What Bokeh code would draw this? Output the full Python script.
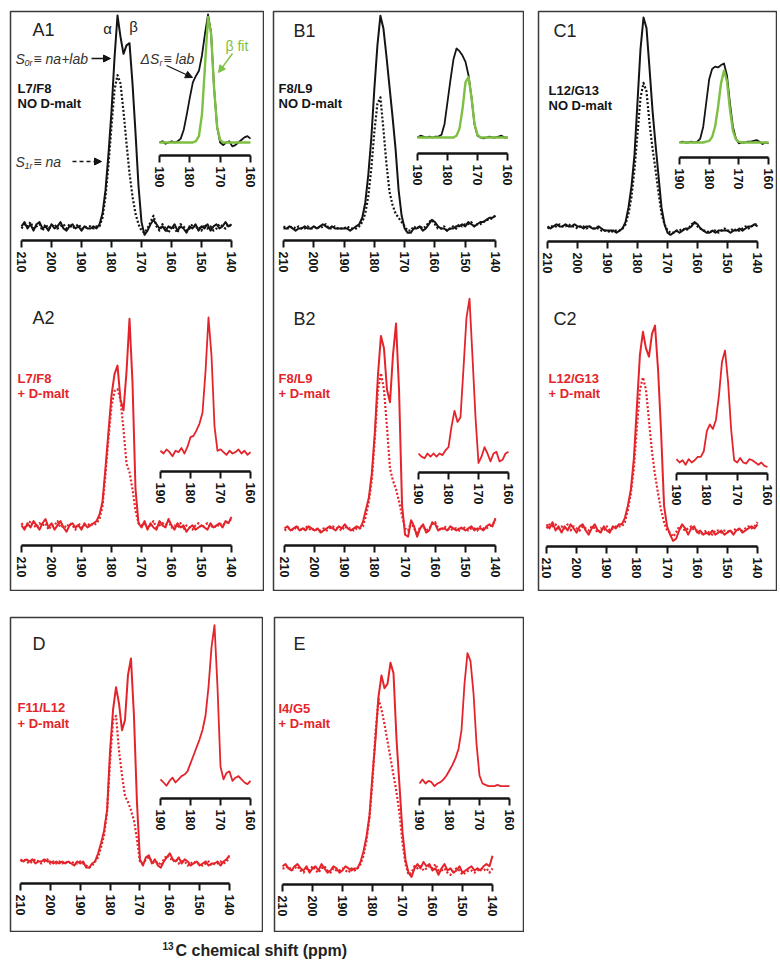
import math
from bokeh.plotting import figure
from bokeh.models import Range1d, LinearAxis, FixedTicker, Label, Arrow, NormalHead, Spacer
from bokeh.layouts import column, row
from bokeh.embed import file_html
from bokeh.resources import INLINE

# ---------------- data ----------------
ppm_main = list(range(210, 139, -1))     # 210 ... 140
ppm_inset = list(range(190, 159, -1))    # 190 ... 160
main_ticks = [210, 200, 190, 180, 170, 160, 150, 140]
inset_ticks = [190, 180, 170, 160]

# A1 (L7/F8, no D-malt)
a1_s0 = [0.01, 0.03, 0.00, 0.02, -0.01, 0.02, 0.03, 0.00, 0.01, -0.01,
         0.02, 0.00, 0.01, 0.03, 0.00, -0.01, 0.01, 0.02, 0.00, 0.01,
         -0.01, 0.01, 0.00, 0.00, 0.01, 0.00, 0.02, 0.07, 0.18, 0.35,
         0.55, 0.80, 1.00, 0.90, 0.82, 0.86, 0.87, 0.68, 0.45, 0.20,
         0.03, -0.03, -0.01, 0.02, 0.04, 0.02, 0.00, 0.01, -0.01, 0.01,
         0.00, 0.02, -0.01, 0.01, 0.00, -0.02, 0.01, 0.00, 0.02, -0.01,
         0.01, 0.00, 0.02, -0.01, 0.01, 0.02, 0.00, 0.01, 0.03, 0.01,
         0.02]
a1_s1 = [0.00, 0.02, 0.01, 0.03, 0.00, 0.01, 0.02, -0.01, 0.02, 0.00,
         0.01, 0.02, 0.00, 0.01, 0.02, 0.00, 0.02, 0.00, 0.01, 0.02,
         0.00, 0.00, 0.01, 0.01, 0.00, 0.01, 0.01, 0.05, 0.15, 0.30,
         0.48, 0.65, 0.72, 0.68, 0.55, 0.40, 0.26, 0.15, 0.07, 0.02,
         -0.01, -0.02, 0.00, 0.03, 0.06, 0.01, -0.01, 0.02, 0.00, -0.02,
         0.01, 0.00, -0.02, 0.02, 0.01, -0.01, 0.00, 0.02, 0.00, 0.01,
         -0.01, 0.02, 0.00, 0.01, -0.01, 0.00, 0.02, 0.01, 0.00, 0.02,
         0.01]
a1_ds = [0.00, 0.01, -0.01, 0.00, 0.01, 0.00, 0.01, 0.03, 0.10, 0.22,
         0.35, 0.47, 0.52, 0.56, 0.68, 0.85, 1.00, 0.86, 0.42, 0.12,
         0.00, -0.02, 0.00, 0.01, -0.03, -0.02, 0.00, 0.02, 0.04, 0.05,
         0.03]
a1_fit = [0.00, 0.00, 0.00, 0.00, 0.00, 0.00, 0.00, 0.00, 0.00, 0.00,
          0.00, 0.00, 0.01, 0.05, 0.22, 0.60, 0.98, 0.85, 0.42, 0.12,
          0.02, 0.00, 0.00, 0.00, 0.00, 0.00, 0.00, 0.00, 0.00, 0.00,
          0.00]

# A2 (L7/F8, + D-malt)
a2_s0 = [0.01, -0.01, 0.02, 0.00, 0.03, 0.01, -0.01, 0.02, 0.04, 0.00,
         0.02, -0.01, 0.01, 0.03, 0.00, -0.02, 0.01, 0.02, 0.00, 0.01,
         -0.01, 0.02, 0.00, 0.01, 0.02, 0.03, 0.06, 0.12, 0.28, 0.45,
         0.62, 0.72, 0.76, 0.60, 0.55, 0.73, 0.98, 0.68, 0.18, 0.02,
         0.00, 0.03, -0.01, 0.02, 0.00, -0.01, 0.03, 0.01, 0.00, 0.04,
         0.01, -0.01, 0.02, 0.00, 0.01, -0.02, 0.00, 0.01, -0.01, 0.00,
         0.01, 0.00, -0.01, 0.02, 0.00, 0.01, 0.02, 0.00, 0.03, 0.02,
         0.05]
a2_s1 = [0.02, 0.00, 0.01, 0.03, 0.01, 0.00, 0.02, 0.01, 0.02, -0.01,
         0.01, 0.01, 0.03, 0.00, 0.01, 0.00, 0.02, 0.01, -0.01, 0.02,
         0.00, 0.01, 0.01, 0.02, 0.01, 0.02, 0.04, 0.10, 0.25, 0.42,
         0.57, 0.64, 0.65, 0.60, 0.46, 0.30, 0.26, 0.18, 0.08, 0.02,
         0.01, 0.02, 0.00, 0.01, 0.03, 0.00, 0.01, 0.02, 0.01, 0.03,
         0.00, 0.01, 0.00, 0.02, -0.01, 0.01, 0.00, -0.01, 0.01, 0.02,
         0.00, 0.01, 0.02, 0.00, 0.01, 0.00, 0.02, 0.01, 0.02, 0.03,
         0.04]
a2_ds = [0.02, 0.00, 0.03, 0.01, -0.02, 0.02, 0.01, 0.04, 0.00, 0.05,
         0.12, 0.13, 0.17, 0.22, 0.30, 0.60, 1.00, 0.72, 0.20, 0.02,
         0.03, 0.01, -0.01, 0.02, 0.00, 0.01, 0.03, 0.00, 0.02, -0.01,
         0.01]

# B1 (F8/L9, no D-malt)
b1_s0 = [0.00, 0.00, 0.01, 0.00, -0.01, 0.00, 0.00, 0.01, 0.00, 0.00,
         0.01, 0.00, 0.01, 0.02, 0.01, 0.00, 0.01, 0.00, 0.00, 0.00,
         0.00, 0.00, -0.01, 0.00, 0.01, 0.02, 0.05, 0.12, 0.25, 0.42,
         0.65, 0.85, 0.99, 0.93, 0.80, 0.66, 0.52, 0.37, 0.18, 0.06,
         0.00, -0.02, -0.02, 0.00, 0.00, 0.01, -0.01, 0.00, 0.02, 0.04,
         0.03, 0.01, 0.00, 0.00, -0.01, 0.00, 0.00, 0.01, 0.01, 0.02,
         0.01, 0.03, 0.02, 0.01, 0.02, 0.03, 0.03, 0.04, 0.05, 0.05,
         0.06]
b1_s1 = [0.01, 0.00, 0.00, 0.01, 0.00, 0.01, 0.00, 0.00, 0.01, 0.00,
         0.00, 0.01, 0.00, 0.01, 0.02, 0.00, 0.00, 0.01, 0.00, 0.00,
         0.00, 0.01, 0.00, 0.00, 0.00, 0.01, 0.03, 0.07, 0.15, 0.28,
         0.45, 0.58, 0.61, 0.46, 0.30, 0.17, 0.11, 0.07, 0.05, 0.03,
         0.01, -0.01, -0.01, 0.01, 0.00, 0.01, 0.00, 0.01, 0.03, 0.04,
         0.02, 0.00, 0.00, 0.01, -0.01, 0.00, 0.01, 0.00, 0.02, 0.01,
         0.02, 0.02, 0.03, 0.01, 0.02, 0.02, 0.03, 0.04, 0.04, 0.05,
         0.06]
b1_ds = [0.00, 0.02, 0.01, 0.00, 0.01, 0.00, 0.01, 0.01, 0.03, 0.15,
         0.40, 0.65, 0.88, 1.00, 0.97, 0.92, 0.85, 0.70, 0.45, 0.15,
         0.02, 0.00, -0.01, 0.00, 0.01, 0.00, 0.00, 0.01, 0.02, 0.00,
         0.00]
b1_fit = [0.00, 0.00, 0.00, 0.00, 0.00, 0.00, 0.00, 0.00, 0.00, 0.00,
          0.00, 0.00, 0.00, 0.02, 0.10, 0.32, 0.62, 0.68, 0.45, 0.15,
          0.03, 0.00, 0.00, 0.00, 0.00, 0.00, 0.00, 0.00, 0.00, 0.00,
          0.00]

# B2 (F8/L9, + D-malt)
b2_s0 = [0.01, 0.02, 0.00, 0.01, 0.02, 0.00, 0.01, 0.00, 0.02, 0.01,
         0.00, 0.01, -0.01, 0.00, 0.01, 0.02, 0.01, 0.00, 0.02, 0.01,
         0.03, 0.01, 0.00, 0.01, 0.02, 0.01, 0.04, 0.10, 0.16, 0.28,
         0.48, 0.75, 0.94, 0.88, 0.68, 0.62, 0.85, 1.00, 0.68, 0.12,
         -0.02, -0.03, 0.05, 0.02, -0.03, 0.01, 0.03, -0.01, 0.00, 0.04,
         0.03, 0.00, 0.01, 0.01, 0.00, 0.02, 0.01, 0.00, 0.01, 0.01,
         0.00, 0.01, 0.02, 0.00, 0.01, 0.01, 0.00, 0.02, 0.03, 0.02,
         0.06]
b2_s1 = [0.00, 0.01, 0.01, 0.00, 0.02, 0.01, 0.00, 0.02, 0.01, 0.00,
         0.01, 0.00, 0.00, 0.01, 0.00, 0.01, 0.02, 0.01, 0.01, 0.00,
         0.02, 0.01, 0.01, 0.00, 0.01, 0.01, 0.02, 0.07, 0.14, 0.25,
         0.45, 0.68, 0.76, 0.68, 0.50, 0.30, 0.24, 0.20, 0.14, 0.07,
         0.01, 0.00, 0.04, 0.01, -0.02, 0.02, 0.02, 0.00, 0.01, 0.03,
         0.04, 0.01, 0.00, 0.02, 0.01, 0.00, 0.01, 0.01, 0.00, 0.02,
         0.01, 0.00, 0.01, 0.01, 0.00, 0.02, 0.01, 0.01, 0.02, 0.03,
         0.05]
b2_ds = [0.00, -0.02, -0.03, 0.00, -0.02, 0.00, -0.02, 0.00, -0.01, 0.02,
         0.04, 0.17, 0.27, 0.20, 0.23, 0.54, 0.86, 0.98, 0.61, 0.23,
         -0.06, -0.02, 0.04, 0.00, -0.05, 0.00, 0.01, -0.05, -0.04, 0.00,
         0.01]

# C1 (L12/G13, no D-malt)
c1_s0 = [0.01, 0.00, 0.01, 0.02, 0.01, 0.01, 0.02, 0.01, 0.01, 0.02,
         0.01, 0.01, 0.00, 0.01, 0.01, 0.00, 0.00, 0.01, 0.00, -0.01,
         -0.01, -0.01, -0.01, -0.02, -0.01, 0.00, 0.03, 0.10, 0.20, 0.35,
         0.60, 0.85, 1.00, 0.95, 0.76, 0.56, 0.40, 0.25, 0.10, 0.02,
         -0.02, -0.03, -0.02, -0.01, -0.02, -0.01, 0.00, 0.00, 0.01, 0.03,
         0.02, 0.00, -0.01, -0.02, -0.02, -0.01, -0.02, -0.01, -0.01, -0.01,
         -0.01, -0.02, -0.01, -0.01, 0.00, -0.01, 0.00, 0.01, 0.01, 0.02,
         0.01]
c1_s1 = [0.00, 0.01, 0.01, 0.01, 0.02, 0.01, 0.01, 0.02, 0.01, 0.01,
         0.00, 0.01, 0.01, 0.00, 0.01, 0.00, 0.00, 0.00, -0.01, -0.01,
         -0.01, -0.02, -0.01, -0.01, -0.01, 0.00, 0.02, 0.07, 0.15, 0.28,
         0.45, 0.62, 0.69, 0.65, 0.50, 0.38, 0.28, 0.17, 0.07, 0.02,
         -0.01, -0.02, -0.02, -0.01, -0.01, 0.00, -0.01, 0.00, 0.02, 0.03,
         0.01, 0.00, -0.01, -0.01, -0.02, -0.01, -0.01, -0.02, -0.01, 0.00,
         -0.01, -0.01, 0.00, -0.01, -0.01, 0.00, 0.01, 0.00, 0.01, 0.02,
         0.02]
c1_ds = [0.00, 0.01, 0.00, 0.00, 0.01, 0.00, 0.01, 0.05, 0.20, 0.50,
         0.80, 0.93, 0.96, 0.95, 0.98, 1.00, 0.85, 0.50, 0.20, 0.05,
         -0.01, 0.00, 0.00, 0.01, 0.01, 0.02, 0.03, 0.01, -0.02, 0.00,
         -0.01]
c1_fit = [0.00, 0.00, 0.00, 0.00, 0.00, 0.00, 0.00, 0.00, 0.00, 0.01,
          0.02, 0.07, 0.20, 0.45, 0.75, 0.91, 0.78, 0.42, 0.15, 0.04,
          0.01, 0.00, 0.00, 0.00, 0.00, 0.00, 0.00, 0.00, 0.00, 0.00,
          0.00]

# C2 (L12/G13, + D-malt)
c2_s0 = [0.03, 0.01, 0.04, 0.00, 0.02, -0.01, 0.02, 0.00, 0.03, 0.01,
         -0.01, 0.02, 0.03, 0.00, -0.02, 0.01, 0.03, 0.00, -0.01, 0.02,
         0.00, -0.01, 0.02, 0.01, 0.03, 0.03, 0.06, 0.12, 0.20, 0.35,
         0.60, 0.85, 0.96, 0.88, 0.84, 0.95, 0.99, 0.78, 0.48, 0.12,
         0.02, -0.02, -0.05, -0.04, 0.00, 0.03, 0.01, -0.02, 0.01, 0.02,
         -0.01, 0.00, -0.02, -0.01, -0.02, 0.00, -0.02, -0.01, 0.00, -0.02,
         -0.01, 0.00, -0.02, 0.00, 0.01, -0.01, 0.00, 0.01, 0.02, 0.01,
         0.03]
c2_s1 = [0.01, 0.03, 0.02, 0.03, 0.00, 0.02, 0.01, 0.03, 0.00, 0.02,
         0.01, 0.00, 0.02, 0.01, 0.00, 0.02, 0.01, -0.01, 0.01, 0.00,
         0.02, 0.00, 0.01, 0.02, 0.02, 0.02, 0.04, 0.10, 0.18, 0.30,
         0.50, 0.68, 0.74, 0.68, 0.53, 0.38, 0.27, 0.18, 0.10, 0.04,
         0.00, -0.01, -0.03, -0.01, 0.02, 0.01, 0.00, 0.01, 0.02, 0.00,
         0.00, -0.02, -0.01, 0.00, -0.01, -0.02, 0.00, 0.00, -0.01, 0.00,
         0.00, -0.01, 0.00, 0.01, 0.00, 0.00, 0.01, 0.02, 0.01, 0.02,
         0.04]
c2_ds = [0.03, 0.00, 0.02, -0.02, 0.03, 0.00, 0.02, 0.05, 0.05, 0.10,
         0.28, 0.34, 0.30, 0.38, 0.60, 0.90, 1.00, 0.72, 0.30, 0.02,
         0.00, 0.04, 0.00, -0.01, 0.03, 0.02, 0.00, -0.02, 0.00, -0.03,
         -0.04]

# D (F11/L12, + D-malt)
d_s0 = [0.02, 0.01, 0.02, 0.01, 0.02, 0.00, 0.01, 0.01, 0.02, 0.01,
        0.01, 0.00, 0.01, 0.00, 0.01, 0.00, 0.01, 0.00, -0.01, 0.01,
        0.00, 0.01, -0.02, -0.02, 0.00, 0.01, 0.05, 0.10, 0.16, 0.26,
        0.55, 0.75, 0.86, 0.78, 0.65, 0.70, 0.92, 1.00, 0.72, 0.30,
        0.02, -0.01, 0.03, 0.04, 0.00, 0.02, -0.01, -0.02, 0.01, 0.03,
        0.05, 0.02, 0.01, 0.03, 0.00, 0.02, 0.01, -0.01, 0.00, 0.01,
        -0.01, 0.00, 0.01, -0.01, 0.00, 0.00, 0.01, -0.01, 0.01, 0.02,
        0.04]
d_s1 = [0.01, 0.02, 0.01, 0.00, 0.01, 0.02, 0.01, 0.00, 0.01, 0.02,
        0.00, 0.01, 0.00, 0.01, 0.00, 0.01, 0.00, 0.01, 0.00, 0.00,
        0.01, 0.00, -0.01, -0.02, -0.01, 0.01, 0.03, 0.08, 0.14, 0.25,
        0.50, 0.70, 0.72, 0.55, 0.43, 0.33, 0.30, 0.26, 0.21, 0.12,
        0.01, 0.00, 0.02, 0.03, 0.01, 0.00, 0.01, -0.01, 0.02, 0.04,
        0.03, 0.01, 0.02, 0.00, 0.01, 0.01, -0.01, 0.00, 0.01, 0.00,
        0.00, -0.01, 0.00, 0.01, -0.01, 0.00, 0.00, 0.01, 0.00, 0.01,
        0.03]
d_ds = [0.02, 0.00, -0.02, 0.01, 0.03, 0.00, 0.02, 0.04, 0.05, 0.07,
        0.12, 0.17, 0.22, 0.27, 0.33, 0.42, 0.60, 0.85, 0.99, 0.60,
        0.10, 0.02, 0.06, 0.07, 0.01, 0.03, 0.04, 0.02, 0.00, -0.01,
        0.01]

# E (I4/G5, + D-malt)
e_s0 = [0.02, 0.03, 0.01, 0.00, 0.02, 0.03, 0.01, 0.00, 0.02, -0.01,
        0.01, 0.02, 0.00, 0.03, 0.01, -0.01, 0.00, 0.02, 0.01, -0.01,
        0.00, 0.02, 0.01, 0.00, 0.01, 0.01, 0.04, 0.09, 0.16, 0.26,
        0.45, 0.62, 0.82, 0.92, 0.86, 0.88, 0.98, 0.93, 0.62, 0.40,
        0.18, 0.05, -0.01, -0.03, 0.01, 0.03, 0.01, 0.04, 0.02, 0.03,
        0.00, 0.01, -0.02, 0.01, 0.03, 0.00, 0.01, -0.01, 0.00, 0.02,
        -0.01, 0.00, 0.01, 0.02, 0.00, 0.01, 0.00, 0.02, 0.03, 0.02,
        0.07]
e_s1 = [0.01, 0.01, 0.02, 0.00, 0.01, 0.02, 0.00, -0.01, 0.01, 0.00,
        0.02, 0.00, -0.01, 0.01, 0.02, 0.00, -0.01, 0.01, 0.00, 0.00,
        0.01, 0.00, -0.01, 0.01, 0.00, 0.01, 0.03, 0.07, 0.14, 0.25,
        0.42, 0.65, 0.81, 0.76, 0.69, 0.61, 0.53, 0.45, 0.37, 0.27,
        0.13, 0.03, -0.02, -0.01, 0.02, 0.01, 0.02, 0.00, 0.01, 0.02,
        0.01, 0.03, 0.00, 0.00, 0.01, -0.01, -0.02, 0.00, 0.01, 0.00,
        -0.02, -0.01, 0.00, 0.00, -0.01, 0.00, 0.01, 0.00, 0.01, -0.01,
        0.01]
e_ds = [0.00, 0.03, 0.00, 0.02, 0.01, -0.02, 0.00, 0.01, 0.03, 0.06,
        0.10, 0.14, 0.19, 0.26, 0.40, 0.75, 0.98, 0.92, 0.68, 0.30,
        0.06, 0.00, -0.01, -0.02, -0.02, -0.02, -0.01, -0.02, -0.02, -0.02,
        -0.02]

for arr in [a1_s0, a1_s1, a2_s0, a2_s1, b1_s0, b1_s1, b2_s0, b2_s1, c1_s0, c1_s1,
            c2_s0, c2_s1, d_s0, d_s1, e_s0, e_s1]:
    assert len(arr) == len(ppm_main), len(arr)
for arr in [a1_ds, a1_fit, a2_ds, b1_ds, b1_fit, b2_ds, c1_ds, c1_fit, c2_ds, d_ds, e_ds]:
    assert len(arr) == len(ppm_inset), len(arr)

# ---------------- style ----------------
BLACK = "#141414"
RED = "#e4242b"
GREEN = "#7dc043"
FRAME = "#3a3a3a"
FONT = "Liberation Sans"
DOT = "2 2"

# boxes: (left, top, width, height) in page pixels
BOXES = {
    "A": (9, 10, 255, 581),
    "B": (272, 10, 252, 581),
    "C": (537, 10, 240, 581),
    "D": (9, 616, 254, 316),
    "E": (273, 616, 251, 316),
}


def make_box(key):
    x0, y0, w, h = BOXES[key]
    p = figure(width=w, height=h,
               x_range=Range1d(x0 + 1, x0 + w - 1), y_range=Range1d(y0 + h - 1, y0 + 1),
               x_axis_type=None, y_axis_type=None, toolbar_location=None,
               output_backend="svg", min_border=1)
    p.outline_line_color = FRAME
    p.outline_line_width = 1.5
    p.background_fill_color = "white"
    p.border_fill_color = "white"
    return p


def style_axis(ax, size):
    ax.axis_line_color = BLACK
    ax.axis_line_width = 2.5
    ax.major_tick_line_color = BLACK
    ax.major_tick_line_width = 2
    ax.major_tick_out = 7
    ax.major_tick_in = 0
    ax.minor_tick_out = 0
    ax.minor_tick_in = 0
    ax.major_label_orientation = -math.pi / 2
    ax.major_label_text_font = FONT
    ax.major_label_text_font_size = size
    ax.major_label_text_font_style = "bold"
    ax.major_label_text_color = BLACK
    ax.major_label_standoff = 4


def subplot(p, key, name, px_lo, px_hi, v_lo, v_hi, y_base, y_top, y_axis, ticks, size):
    x0, y0, w, h = BOXES[key]
    fl, fw = x0 + 1, w - 2
    ft, fh = y0 + 1, h - 2
    fb = ft + fh
    kx = (v_hi - v_lo) / (px_hi - px_lo)
    xs = v_lo - (px_lo - fl) * kx
    ky = 1.0 / (y_base - y_top)
    ys = -(fb - y_base) * ky
    xr = dict(p.extra_x_ranges)
    xr[name] = Range1d(xs, xs + fw * kx)
    p.extra_x_ranges = xr
    yr = dict(p.extra_y_ranges)
    yr[name] = Range1d(ys, ys + fh * ky)
    p.extra_y_ranges = yr
    ax = LinearAxis(x_range_name=name, y_range_name=name,
                    fixed_location=(y_base - y_axis) * ky,
                    bounds=(min(v_lo, v_hi), max(v_lo, v_hi)),
                    ticker=FixedTicker(ticks=ticks, minor_ticks=[]))
    style_axis(ax, size)
    p.add_layout(ax, "below")


def curve(p, name, xs, ys, color, width=2.0, dash="solid"):
    p.line(xs, ys, x_range_name=name, y_range_name=name, line_color=color,
           line_width=width, line_dash=dash, line_join="round")


def txt(p, x, y, s, size="13px", color=BLACK, style="normal", align="left"):
    p.add_layout(Label(x=x, y=y, text=s, text_font=FONT, text_font_size=size,
                       text_color=color, text_font_style=style, text_align=align,
                       text_baseline="middle"))


def arrow(p, x1, y1, x2, y2, color=BLACK, dash="solid"):
    p.add_layout(Arrow(x_start=x1, y_start=y1, x_end=x2, y_end=y2,
                       line_color=color, line_width=1.3, line_dash=dash,
                       end=NormalHead(size=7, fill_color=color, line_color=color)))


MS, IS = "12.5px", "12.5px"

# ---------------- box A ----------------
pA = make_box("A")
subplot(pA, "A", "a1", 21, 231, 210, 140, 228, 15, 240, main_ticks, MS)
subplot(pA, "A", "a1i", 159, 250, 190, 160, 142, 14, 155, inset_ticks, IS)
subplot(pA, "A", "a2", 21, 231, 210, 140, 527, 314, 545, main_ticks, MS)
subplot(pA, "A", "a2i", 160, 250, 190, 160, 453, 317, 471, inset_ticks, IS)
curve(pA, "a1", ppm_main, a1_s1, BLACK, 2.2, DOT)
curve(pA, "a1", ppm_main, a1_s0, BLACK, 2)
curve(pA, "a1i", ppm_inset, a1_ds, BLACK, 1.8)
curve(pA, "a1i", ppm_inset, a1_fit, GREEN, 2.4)
curve(pA, "a2", ppm_main, a2_s1, RED, 2.2, DOT)
curve(pA, "a2", ppm_main, a2_s0, RED, 2)
curve(pA, "a2i", ppm_inset, a2_ds, RED, 1.8)

txt(pA, 32, 29, "A1", "18px", "#222222")
txt(pA, 107, 28, "α", "15px", "#222222", align="center")
txt(pA, 133, 26, "β", "15px", "#222222", align="center")
txt(pA, 15, 58, "S", "14px", "#333333", "italic")
txt(pA, 24, 62, "0r", "9px", "#333333", "italic")
txt(pA, 33, 58, "≡ na+lab", "14px", "#333333", "italic")
arrow(pA, 91, 58, 110, 58)
txt(pA, 17, 88, "L7/F8", "13px", BLACK, "bold")
txt(pA, 17, 103, "NO D-malt", "13px", BLACK, "bold")
txt(pA, 15, 161, "S", "14px", "#333333", "italic")
txt(pA, 24, 165, "1r", "9px", "#333333", "italic")
txt(pA, 33, 161, "≡ na", "14px", "#333333", "italic")
arrow(pA, 72, 161, 101, 161, dash="4 3")
txt(pA, 140, 58, "ΔS", "14px", "#333333", "italic")
txt(pA, 159, 62, "r", "9px", "#333333", "italic")
txt(pA, 163, 58, "≡ lab", "14px", "#333333", "italic")
arrow(pA, 166, 65, 192, 77)
txt(pA, 225, 45, "β fit", "14px", GREEN)
arrow(pA, 232, 53, 218, 72, color=GREEN)

txt(pA, 32, 317, "A2", "18px", "#222222")
txt(pA, 17, 378, "L7/F8", "13px", RED, "bold")
txt(pA, 17, 393, "+ D-malt", "13px", RED, "bold")

# ---------------- box B ----------------
pB = make_box("B")
subplot(pB, "B", "b1", 283, 495, 210, 140, 228, 13, 240, main_ticks, MS)
subplot(pB, "B", "b1i", 417, 507, 190, 160, 137, 48, 153, inset_ticks, IS)
subplot(pB, "B", "b2", 284, 495, 210, 140, 530, 323, 545, main_ticks, MS)
subplot(pB, "B", "b2i", 418, 508, 190, 160, 453, 295, 472, inset_ticks, IS)
curve(pB, "b1", ppm_main, b1_s1, BLACK, 2.2, DOT)
curve(pB, "b1", ppm_main, b1_s0, BLACK, 2)
curve(pB, "b1i", ppm_inset, b1_ds, BLACK, 1.8)
curve(pB, "b1i", ppm_inset, b1_fit, GREEN, 2.4)
curve(pB, "b2", ppm_main, b2_s1, RED, 2.2, DOT)
curve(pB, "b2", ppm_main, b2_s0, RED, 2)
curve(pB, "b2i", ppm_inset, b2_ds, RED, 1.8)
txt(pB, 293, 30, "B1", "18px", "#222222")
txt(pB, 278, 88, "F8/L9", "13px", BLACK, "bold")
txt(pB, 278, 103, "NO D-malt", "13px", BLACK, "bold")
txt(pB, 293, 318, "B2", "18px", "#222222")
txt(pB, 278, 378, "F8/L9", "13px", RED, "bold")
txt(pB, 278, 393, "+ D-malt", "13px", RED, "bold")

# ---------------- box C ----------------
pC = make_box("C")
subplot(pC, "C", "c1", 547, 757, 210, 140, 228, 17, 241, main_ticks, MS)
subplot(pC, "C", "c1i", 679, 768, 190, 160, 142, 63, 157, inset_ticks, IS)
subplot(pC, "C", "c2", 546, 757, 210, 140, 530, 323, 546, main_ticks, MS)
subplot(pC, "C", "c2i", 676, 767, 190, 160, 462, 350, 473, inset_ticks, IS)
curve(pC, "c1", ppm_main, c1_s1, BLACK, 2.2, DOT)
curve(pC, "c1", ppm_main, c1_s0, BLACK, 2)
curve(pC, "c1i", ppm_inset, c1_ds, BLACK, 1.8)
curve(pC, "c1i", ppm_inset, c1_fit, GREEN, 2.4)
curve(pC, "c2", ppm_main, c2_s1, RED, 2.2, DOT)
curve(pC, "c2", ppm_main, c2_s0, RED, 2)
curve(pC, "c2i", ppm_inset, c2_ds, RED, 1.8)
txt(pC, 553, 30, "C1", "18px", "#222222")
txt(pC, 548, 90, "L12/G13", "13px", BLACK, "bold")
txt(pC, 548, 105, "NO D-malt", "13px", BLACK, "bold")
txt(pC, 553, 318, "C2", "18px", "#222222")
txt(pC, 548, 378, "L12/G13", "13px", RED, "bold")
txt(pC, 548, 393, "+ D-malt", "13px", RED, "bold")

# ---------------- box D ----------------
pD = make_box("D")
subplot(pD, "D", "d", 20, 229, 210, 140, 863, 658, 883, main_ticks, MS)
subplot(pD, "D", "di", 160, 250, 190, 160, 782, 623, 798, inset_ticks, IS)
curve(pD, "d", ppm_main, d_s1, RED, 2.2, DOT)
curve(pD, "d", ppm_main, d_s0, RED, 2)
curve(pD, "di", ppm_inset, d_ds, RED, 1.8)
txt(pD, 32, 643, "D", "18px", "#222222")
txt(pD, 17, 707, "F11/L12", "13px", RED, "bold")
txt(pD, 17, 723, "+ D-malt", "13px", RED, "bold")

# ---------------- box E ----------------
pE = make_box("E")
subplot(pE, "E", "e", 282, 492, 210, 140, 870, 658, 884, main_ticks, MS)
subplot(pE, "E", "ei", 419, 509, 190, 160, 783, 650, 798, inset_ticks, IS)
curve(pE, "e", ppm_main, e_s1, RED, 2.2, DOT)
curve(pE, "e", ppm_main, e_s0, RED, 2)
curve(pE, "ei", ppm_inset, e_ds, RED, 1.8)
txt(pE, 293, 643, "E", "18px", "#222222")
txt(pE, 278, 708, "I4/G5", "13px", RED, "bold")
txt(pE, 278, 723, "+ D-malt", "13px", RED, "bold")

# ---------------- shared axis title ----------------
pT = figure(width=515, height=37, x_range=Range1d(9, 524), y_range=Range1d(969, 932),
            x_axis_type=None, y_axis_type=None, toolbar_location=None,
            output_backend="svg", min_border=0)
pT.outline_line_color = None
pT.background_fill_color = "white"
pT.border_fill_color = "white"
txt(pT, 162, 945, "13", "10px", "#222222", "bold")
txt(pT, 175, 950, "C chemical shift (ppm)", "16px", "#222222", "bold")

layout = column(
    Spacer(height=10, width=777),
    row(Spacer(width=9, height=581), pA, Spacer(width=8, height=581), pB,
        Spacer(width=13, height=581), pC),
    Spacer(height=25, width=777),
    row(Spacer(width=9, height=316), pD, Spacer(width=10, height=316), pE),
    row(Spacer(width=9, height=37), pT),
)

with open("out.html", "w") as f:
    f.write(file_html(layout, INLINE))
